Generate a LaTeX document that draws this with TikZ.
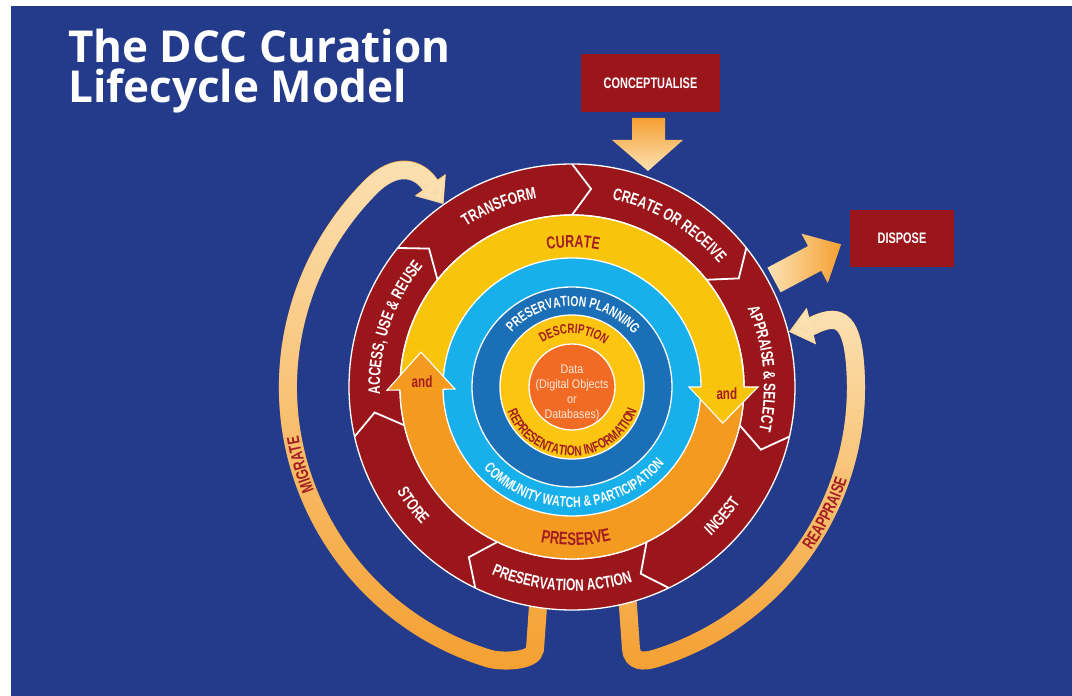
\documentclass[tikz,border=0pt]{standalone}
\usepackage{fontspec}
\usetikzlibrary{decorations.text,arrows.meta,fadings}

\newfontfamily\lblfam{Liberation Sans Bold}[FakeStretch=0.72]
\newfontfamily\datafam{Liberation Sans}[FakeStretch=0.86]
\newfontfamily\titlefam{Open Sans}

\definecolor{bgblue}{HTML}{243B8C}
\definecolor{ringred}{HTML}{9B161B}
\definecolor{curyellow}{HTML}{F8C50C}
\definecolor{presorange}{HTML}{F49B1F}
\definecolor{skyblue}{HTML}{18B0EA}
\definecolor{deepblue}{HTML}{1B6FB6}
\definecolor{descyellow}{HTML}{FBC511}
\definecolor{dataorange}{HTML}{F26B24}
\definecolor{labelred}{HTML}{A21C22}
\definecolor{arrowpeach}{HTML}{FCE2B4}
\definecolor{arroworange}{HTML}{F5A031}
\definecolor{datatext}{HTML}{FDE8DA}

\newcommand\fsz[1]{\fontsize{#1}{#1}\selectfont}
% text set along a circular arc around the current origin
\newcommand\arctext[5]{%
  \path[decorate,decoration={text along path,text align=center,
        text={|#1|#5}}]
    (#3:#2pt) arc[start angle=#3,end angle=#4,radius=#2pt];}
\newcommand\outerfmt{\lblfam\fsz{16.7}\color{white}}

% the two feedback loops, relative to the centre of the wheel
\newcommand\migratepath{(-33,-205) -- (-37,-262)
  .. controls (-38.2,-275) and (-71.5,-275.1) .. (253:284)
  arc[start angle=253,end angle=135,radius=284pt]
  .. controls (-176.1,225.5) and (125:268) .. (125:248) -- (125:224)}
\newcommand\reappraisepath{(55,-205) -- (59,-262)
  .. controls (60.2,-275) and (71.5,-275.1) .. (-73:284)
  arc[start angle=-73,end angle=5,radius=284pt]
  .. controls (279,69.6) and (15.5:275) .. (14.3:248) -- (14.3:224)}

\begin{document}
\begin{tikzpicture}[x=1pt,y=1pt,
  box/.style={fill=ringred,text=white,font=\lblfam\fsz{15.2},inner sep=0pt},
  andlbl/.style={text=labelred,font=\lblfam\fsz{16.2},inner sep=0pt},
  ringline/.style={draw=white,line width=1.3pt},
  chev/.style={draw=white,line width=1.8pt,line join=miter},
  loopline/.style={line width=18pt,-{Triangle[width=36pt,length=23pt]}},
  titletext/.style={anchor=base west,inner sep=0pt,text=white,
                    font=\titlefam\bfseries\fsz{44}}]

\useasboundingbox (0,0) rectangle (1072,696);
\fill[white] (0,0) rectangle (1072,696);
\fill[bgblue] (11,0) rectangle (1072,690);

% title
\node[titletext] (title1) at (68,633.5) {The DCC Curation};
\node[titletext] (title2) at (68,593) {Lifecycle Model};

% side boxes
\node[box,minimum width=139pt,minimum height=58pt] (concept) at (650.5,613) {CONCEPTUALISE};
\node[box,minimum width=104pt,minimum height=57pt] (dispose) at (902,457.5) {DISPOSE};

% block arrow from conceptualise into the wheel
\shade[top color=arroworange,bottom color=arrowpeach]
  (632,578) -- (665,578) -- (665,556) -- (683,556) -- (648,525)
  -- (612,556) -- (632,556) -- cycle;

% block arrow out of the wheel towards dispose
\begin{scope}[shift={(774,416)},rotate=28]
  \shade[left color=arrowpeach,right color=arroworange]
    (0,-14) -- (46,-14) -- (46,-28) -- (76,0) -- (46,28) -- (46,14) -- (0,14) -- cycle;
\end{scope}

\begin{scope}[shift={(572,309)}]
  % migrate and reappraise loops
  \draw[loopline,arroworange] \migratepath;
  \draw[loopline,arrowpeach,path fading=south] \migratepath;
  \draw[loopline,arroworange] \reappraisepath;
  \draw[loopline,arrowpeach,path fading=south] \reappraisepath;

  % outer ring of sequential actions
  \filldraw[ringline,fill=ringred] (0,0) circle[radius=223pt];
  \foreach \b in {90,38.571,-12.857,-64.286,-115.714,-167.143,141.429}
    \draw[chev] (\b:223) -- ({\b-5.5}:199) -- (\b:172);

  % curate / preserve ring
  \filldraw[ringline,fill=curyellow] (0,0) circle[radius=172pt];
  \fill[presorange] (181:172) arc[start angle=181,end angle=360,radius=172pt]
    -- (0:129) arc[start angle=360,end angle=181,radius=129pt] -- cycle;
  \draw[ringline] (0,0) circle[radius=172pt];

  % inner rings
  \filldraw[ringline,fill=skyblue] (0,0) circle[radius=129pt];
  \filldraw[ringline,fill=deepblue] (0,0) circle[radius=100pt];
  \filldraw[ringline,fill=descyellow] (0,0) circle[radius=72pt];
  \filldraw[ringline,fill=dataorange] (0,0) circle[radius=43pt];

  % "and" arrowheads joining curate and preserve
  \fill[presorange] (181:117) -- (167:155) -- (181:185) -- cycle;
  \draw[white,line width=1.1pt] (181:129) -- (181:117) -- (167:155) -- (181:185) -- (181:172);
  \fill[curyellow] (0:117) -- (-13.5:155) -- (0:186) -- cycle;
  \draw[white,line width=1.1pt] (0:129) -- (0:117) -- (-13.5:155) -- (0:186) -- (0:172);
  \node[andlbl] (andleft) at (178:150) {and};
  \node[andlbl] (andright) at (-2.3:155) {and};

  % centre
  \node[align=center,text=datatext,inner sep=0pt,
        font=\datafam\fontsize{12.5}{15}\selectfont] (data) at (0,-5.5)
        {Data\\(Digital Objects\\or\\Databases)};

  % outer ring labels
  \arctext{\outerfmt}{192}{137}{87}{TRANSFORM}
  \arctext{\outerfmt}{192}{94}{24}{CREATE OR RECEIVE}
  \arctext{\outerfmt}{192}{40.5}{-29.5}{APPRAISE {\&} SELECT}
  \arctext{\outerfmt}{192}{196.5}{126.5}{ACCESS, USE {\&} REUSE}
  \arctext{\outerfmt}{204}{-60.7}{-20.7}{INGEST}
  \arctext{\outerfmt}{204}{-128}{-58}{PRESERVATION ACTION}
  \arctext{\outerfmt}{204}{-161.3}{-125.3}{STORE}

  % inner ring labels
  \arctext{\lblfam\fsz{17.3}\color{labelred}}{139.8}{114.5}{64.5}{CURATE}
  \arctext{\lblfam\fsz{18.2}\color{labelred}}{158.5}{-118.5}{-58.5}{PRESERVE}
  \arctext{\lblfam\fsz{14.3}\color{white}}{80.9}{150}{28}{PRESERVATION PLANNING}
  \arctext{\lblfam\fsz{14.8}\color{white}}{120.3}{-150}{-27}{COMMUNITY WATCH {\&} PARTICIPATION}
  \arctext{\lblfam\fsz{13.5}\color{labelred}}{53.2}{140}{36}{DESCRIPTION}
  \arctext{\lblfam\fsz{14.1}\color{labelred}}{69}{-170}{-9}{REPRESENTATION INFORMATION}

  % loop labels
  \arctext{\lblfam\fsz{17.1}\color{labelred}}{277.9}{225}{167}{MIGRATE}
  \arctext{\lblfam\fsz{17.1}\color{labelred}}{290.1}{-55}{2}{REAPPRAISE}
\end{scope}
\end{tikzpicture}
\end{document}
